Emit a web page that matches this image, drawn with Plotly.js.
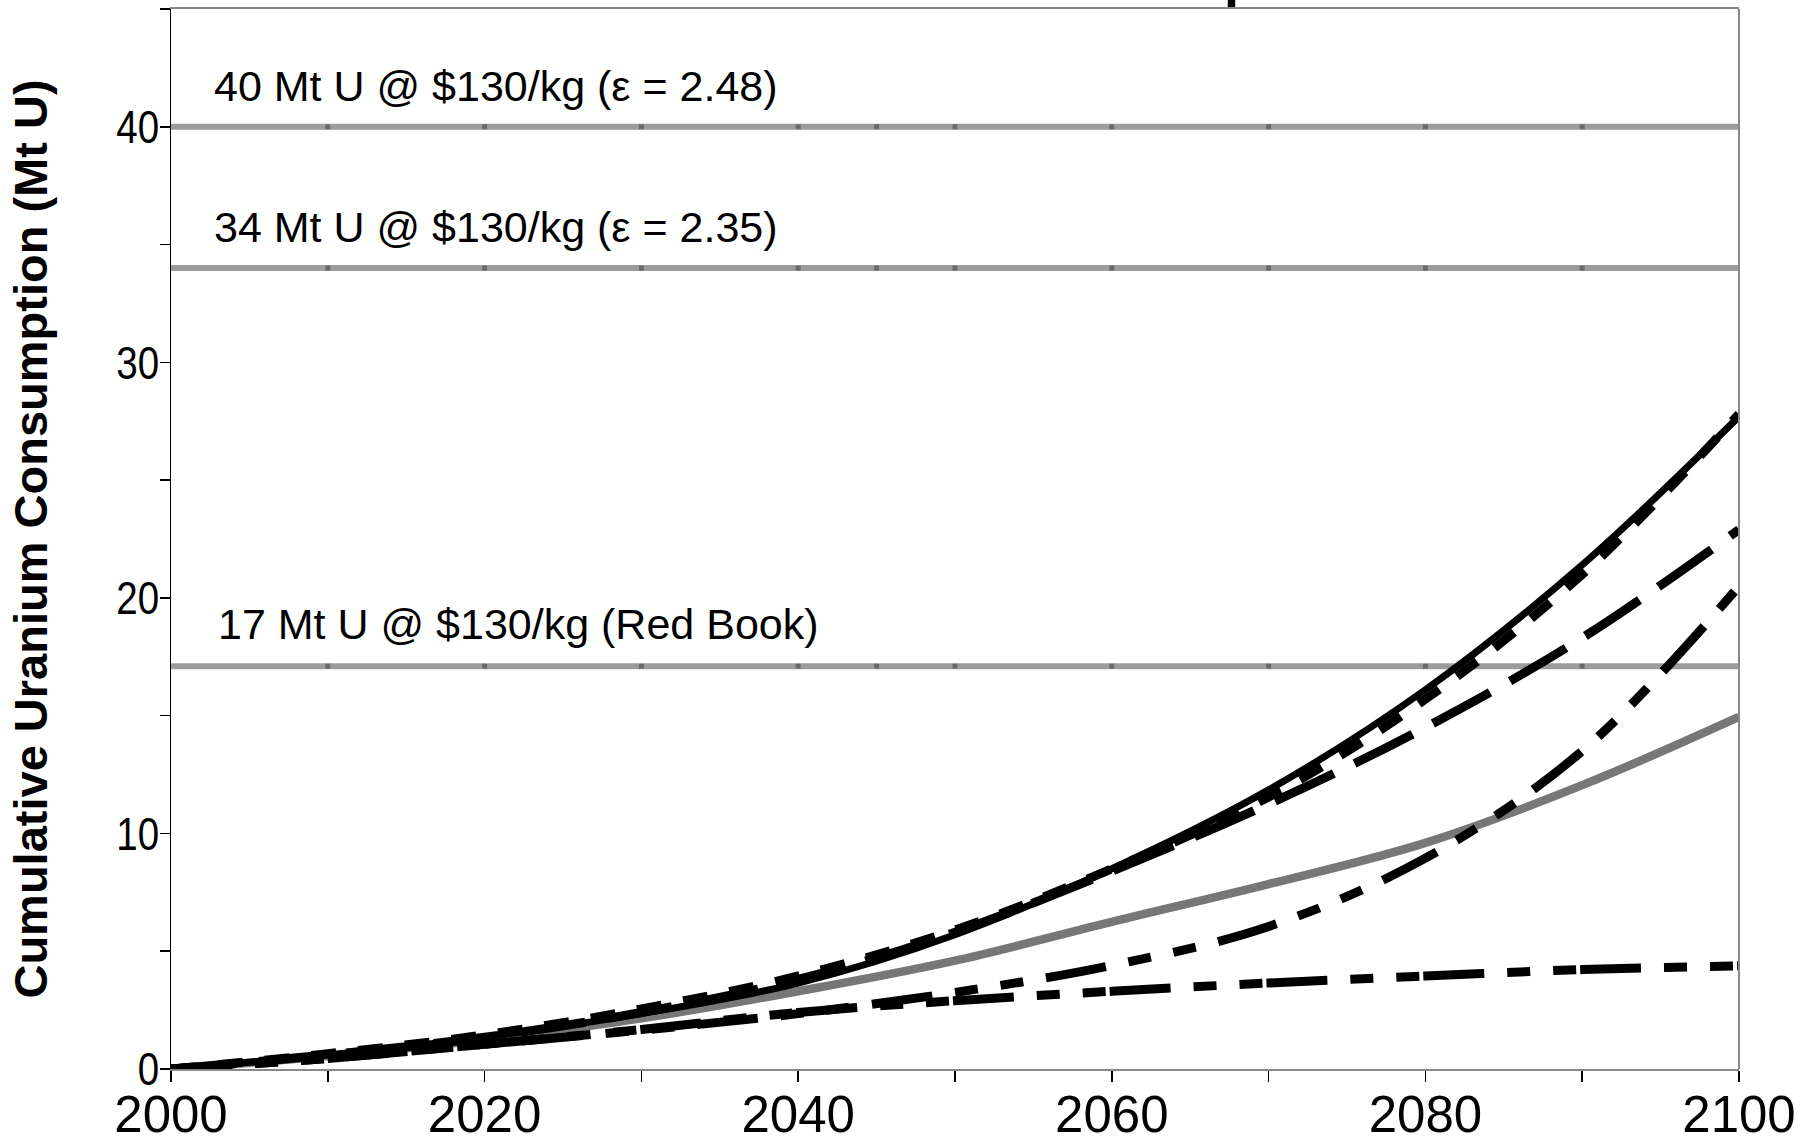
<!DOCTYPE html>
<html><head><meta charset="utf-8">
<script src="https://cdn.plot.ly/plotly-3.0.1.min.js"></script>
<style>html,body{margin:0;padding:0;background:#fff}#chart{width:1806px;height:1144px}</style>
</head><body><div id="chart"></div>
<script>
// ---- data ----
const years = [2000, 2010, 2020, 2030, 2040, 2050, 2060, 2070, 2080, 2090, 2100];
const solidBlack   = [0, 0.6, 1.35, 2.35, 3.65, 5.7, 8.5, 11.85, 16.1, 21.4, 27.7];
const shortDash    = [0, 0.65, 1.45, 2.55, 3.95, 5.9, 8.5, 11.55, 15.7, 21.0, 27.8];
const longDash     = [0, 0.6, 1.35, 2.4, 3.8, 5.8, 8.4, 11.25, 14.5, 18.3, 22.9];
const dashDotHigh  = [0, 0.45, 1.05, 1.65, 2.35, 3.25, 4.4, 6.05, 8.95, 13.5, 20.5];
const dashDotLow   = [0, 0.45, 1.05, 1.68, 2.4, 2.9, 3.3, 3.65, 3.95, 4.22, 4.38];
const grayCurve    = [0, 0.55, 1.25, 2.15, 3.3, 4.6, 6.25, 7.85, 9.6, 12.05, 14.95];

const refYears  = [2000, 2010, 2020, 2030, 2040, 2045, 2050, 2060, 2070, 2080, 2090, 2100];
const refLevels = [40, 34, 17.1];
const refLabels = ['40 Mt U @ $130/kg (\u03b5 = 2.48)', '34 Mt U @ $130/kg (\u03b5 = 2.35)', '17 Mt U @ $130/kg (Red Book)'];
const refLabelX = [2002.6, 2002.6, 2002.9];
const refLabelY = [41.75, 35.75, 18.9];

const xTickVals = [2000, 2010, 2020, 2030, 2040, 2050, 2060, 2070, 2080, 2090, 2100];
const xTickText = ['2000', '', '2020', '', '2040', '', '2060', '', '2080', '', '2100'];
const yTickVals = [0, 5, 10, 15, 20, 25, 30, 35, 40, 45];
const yTickText = ['0', '', '10', '', '20', '', '30', '', '40', ''];

const chartTitle = 'Cumulative Uranium Consumption';
const yTitle = 'Cumulative Uranium Consumption (Mt U)';

// ---- traces ----
const FONT = 'Arial, "Liberation Sans", sans-serif';
const traces = [];
refLevels.forEach(function (lv) {
  traces.push({
    x: refYears, y: refYears.map(function () { return lv; }),
    mode: 'lines+markers', type: 'scatter', hoverinfo: 'skip', showlegend: false,
    line: { color: '#9c9c9c', width: 6 },
    marker: { symbol: 'square', color: '#555555', size: refYears.map(function (yr, i) { return (i === 0 || i === refYears.length - 1) ? 0 : 5; }), line: { width: 0 } }
  });
});
function curve(y, color, width, dash) {
  return { x: years, y: y, mode: 'lines', type: 'scatter', showlegend: false, hoverinfo: 'skip',
    line: { color: color, width: width, dash: dash, shape: 'spline', smoothing: 1 } };
}
traces.push(curve(grayCurve, '#777777', 8.5, 'solid'));
traces.push(curve(dashDotLow, '#000', 9, '61px,23px,23px,23px,23px,4px'));
traces.push(curve(dashDotHigh, '#000', 9, '61px,23px,23px,23px,23px,23px'));
traces.push(curve(solidBlack, '#000', 7, 'solid'));
traces.push(curve(longDash, '#000', 9, '65px,23px'));
traces.push(curve(shortDash, '#000', 9, '25px,22px'));

const annotations = refLabels.map(function (t, i) {
  return { x: refLabelX[i], y: refLabelY[i], xref: 'x', yref: 'y', text: t, showarrow: false,
    xanchor: 'left', yanchor: 'middle', font: { family: FONT, size: 43, color: '#000' } };
});

const layout = {
  width: 1806, height: 1144,
  paper_bgcolor: '#fff', plot_bgcolor: '#fff',
  margin: { l: 171, r: 67, t: 9, b: 75, pad: 0 },
  showlegend: false,
  title: { text: '<b>' + chartTitle + '</b>', font: { family: FONT, size: 54, color: '#000' },
    x: 0.505, xref: 'container', xanchor: 'center', y: 1, yref: 'container', yanchor: 'bottom', pad: { b: 4, t: 0, l: 0, r: 0 } },
  xaxis: {
    range: [2000, 2100], tickmode: 'array', tickvals: xTickVals, ticktext: xTickText,
    ticks: 'outside', ticklen: 11, tickwidth: 1.5, tickcolor: '#000',
    showline: true, linecolor: '#888888', linewidth: 2, mirror: true,
    showgrid: false, zeroline: false, fixedrange: true,
    tickfont: { family: FONT, size: 51, color: '#000' }, ticklabelstandoff: -11
  },
  yaxis: {
    range: [0, 45], tickmode: 'array', tickvals: yTickVals, ticktext: yTickText,
    ticks: 'outside', ticklen: 10, tickwidth: 1.5, tickcolor: '#000',
    showline: true, linecolor: '#000', linewidth: 1.5, mirror: false,
    showgrid: false, zeroline: false, fixedrange: true,
    tickfont: { family: FONT, size: 47, color: '#000' }, ticklabelstandoff: -9,
    title: { text: '<b>' + yTitle + '</b>', font: { family: FONT, size: 47, color: '#000' }, standoff: 44 }
  },
  shapes: [
    { type: 'line', xref: 'paper', yref: 'paper', x0: 1, x1: 1, y0: 0, y1: 1, line: { color: '#888888', width: 2 } }
  ],
  annotations: annotations
};

Plotly.newPlot('chart', traces, layout, { displayModeBar: false, staticPlot: true }).then(function (gd) {
  // the reference draws the value-axis numbers in a condensed face: narrow them in place
  gd.querySelectorAll('.ytick text').forEach(function (el) {
    const x = parseFloat(el.getAttribute('x')) || 0;
    const t = el.getAttribute('transform') || '';
    el.setAttribute('transform', t + ' translate(' + x + ',0) scale(0.82,1) translate(' + (-x) + ',0)');
  });
});
</script>
</body></html>
